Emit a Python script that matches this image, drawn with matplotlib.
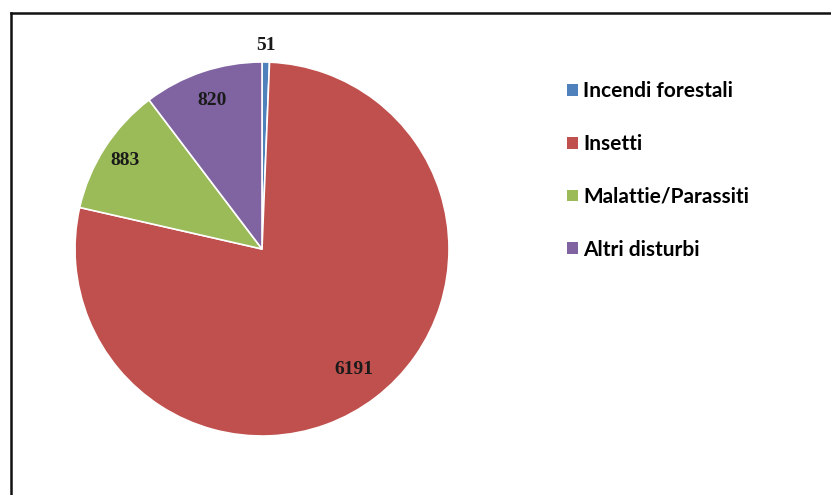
import numpy as np
import matplotlib.pyplot as plt
from matplotlib.lines import Line2D
from matplotlib.patches import Patch

# dati
categorie = ["Incendi forestali", "Insetti", "Malattie/Parassiti", "Altri disturbi"]
valori = [51, 6191, 883, 820]
colori = ["#4F81BD", "#C0504D", "#9BBB59", "#8064A2"]

W, H = 831, 495
fig = plt.figure(figsize=(W / 100, H / 100), dpi=100)

# pie centrata a (262, 249) px, raggio 187 px
cx, cy, r = 262, 249, 187
ax = fig.add_axes([(cx - r) / W, (H - cy - r) / H, 2 * r / W, 2 * r / H])
wedges, _ = ax.pie(valori, colors=colori, startangle=90, counterclock=False,
                   wedgeprops=dict(edgecolor="white", linewidth=1.2))
ax.set_xlim(-1, 1)
ax.set_ylim(-1, 1)
ax.set_aspect("equal")

# etichette dati (distanza radiale per etichetta)
dist = [1.09, 0.81, 0.87, 0.84]
for w, v, d in zip(wedges, valori, dist):
    ang = np.deg2rad((w.theta1 + w.theta2) / 2)
    ax.text(d * np.cos(ang), d * np.sin(ang), str(v), ha="center", va="center",
            fontsize=14, fontweight="bold", family="Liberation Serif", color="#1a1a1a")

# legenda
handles = [Patch(facecolor=c, edgecolor="none") for c in colori]
fig.legend(handles, categorie, loc="upper left", bbox_to_anchor=(557 / W, 1 - 71 / H),
           frameon=False, prop=dict(family="Lato", size=15, weight="bold"),
           handlelength=0.5, handleheight=0.5, handletextpad=0.25,
           labelspacing=1.57, borderpad=0)

# bordo (solo sopra e a sinistra)
fig.add_artist(Line2D([10.5 / W, 1], [1 - 13 / H, 1 - 13 / H], color="#111111", lw=1.8))
fig.add_artist(Line2D([10.5 / W, 10.5 / W], [0, 1 - 13 / H], color="#111111", lw=1.8))

fig.savefig("out.png", dpi=100)
